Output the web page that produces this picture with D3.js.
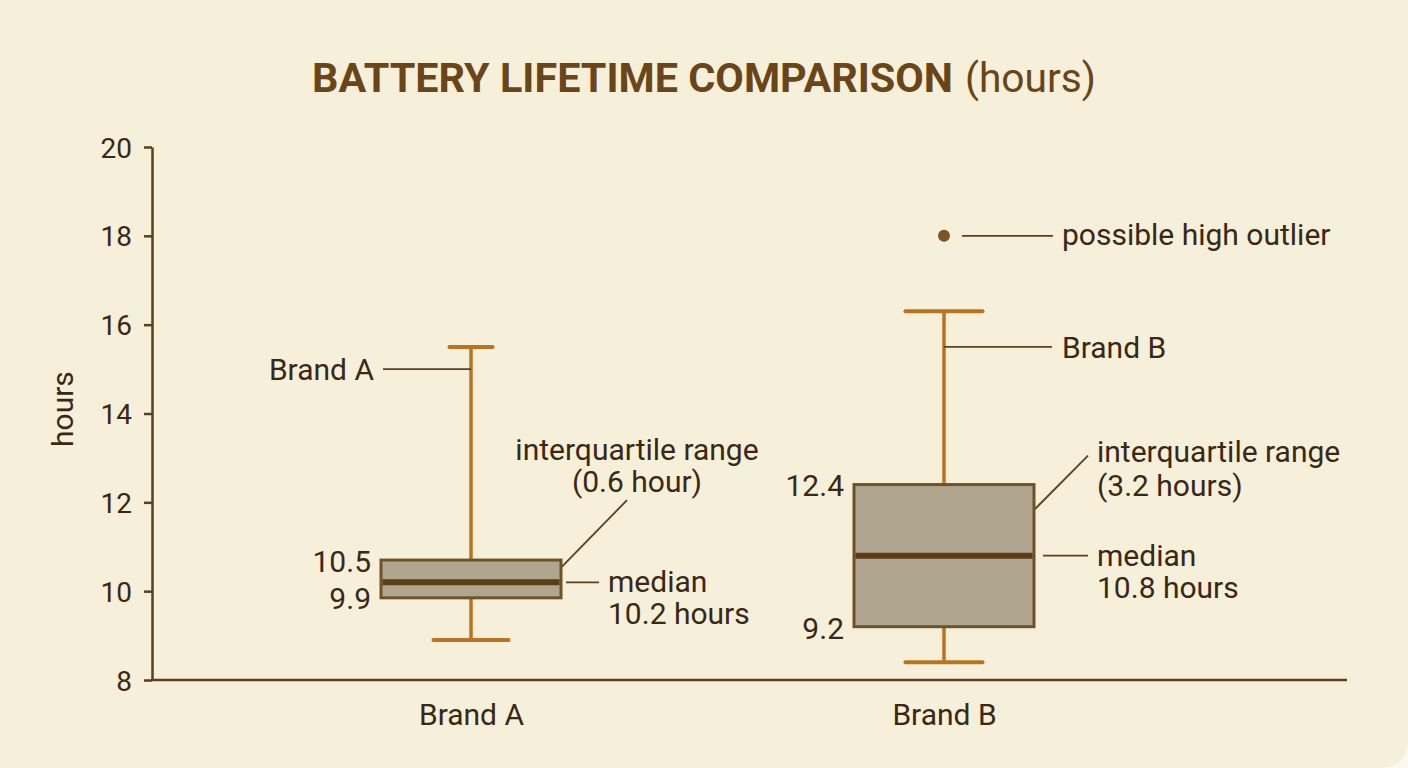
<!DOCTYPE html>
<html>
<head>
<meta charset="utf-8">
<script src="https://cdn.jsdelivr.net/npm/d3@7"></script>
<style>
  html, body { margin: 0; padding: 0; background: #fbf8ef; }
  svg { display: block; }
  text { font-family: Roboto, "Noto Sans", sans-serif; }
</style>
</head>
<body>
<svg id="chart" width="1408" height="768"></svg>
<script>
// ---- data ----
const categories = ["Brand A", "Brand B"];
const whiskerLow = [8.9, 8.4];
const q1Values = [9.85, 9.2];
const medianValues = [10.2, 10.8];
const q3Values = [10.7, 12.4];
const whiskerHigh = [15.5, 16.3];
const outlierValues = [[], [18]];
const yTickValues = [8, 10, 12, 14, 16, 18, 20];
const q1Labels = ["9.9", "9.2"];
const q3Labels = ["10.5", "12.4"];
const iqrLabels = ["(0.6 hour)", "(3.2 hours)"];
const medianLabels = ["10.2 hours", "10.8 hours"];

// ---- styles ----
const C = {
  bg: "#f6efda", text: "#3a2814", title: "#6a4517", axis: "#5b4020",
  whisker: "#b8741f", boxFill: "#b0a58f", boxStroke: "#6e5228",
  median: "#5a3c17", leader: "#5b4020", outlier: "#7a5424"
};
const FS = 30;
const FS_TICK = 28;

const svg = d3.select("#chart");
svg.append("rect").attr("x", -40).attr("y", -40).attr("width", 1448).attr("height", 808)
  .attr("rx", 26).attr("fill", C.bg);

const y = d3.scaleLinear().domain([8, 20]).range([680, 147]);
const x = d3.scalePoint().domain(categories).range([471, 944]);
const boxW = 180;
const capW = { "Brand A": [75, 43], "Brand B": [77, 77] };

// title
svg.append("text").attr("x", 312).attr("y", 92).attr("fill", C.title)
  .attr("font-size", 41).attr("font-weight", 700)
  .attr("textLength", 641).attr("lengthAdjust", "spacingAndGlyphs")
  .text("BATTERY LIFETIME COMPARISON");
svg.append("text").attr("x", 965).attr("y", 92).attr("fill", C.title).attr("font-size", 41)
  .attr("textLength", 131).attr("lengthAdjust", "spacingAndGlyphs").text("(hours)");

// y axis
const yAxis = svg.append("g").attr("transform", "translate(152,0)")
  .call(d3.axisLeft(y).tickValues(yTickValues).tickSize(8).tickPadding(12).tickSizeOuter(0));
yAxis.select(".domain").attr("stroke", C.axis).attr("stroke-width", 2.5);
yAxis.selectAll(".tick line").attr("stroke", C.axis).attr("stroke-width", 2.5);
yAxis.selectAll(".tick text").attr("fill", C.text).attr("font-size", FS_TICK)
  .attr("font-family", "Roboto").attr("dy", "0.36em");

// x axis baseline
svg.append("line").attr("x1", 151).attr("x2", 1347).attr("y1", y(8)).attr("y2", y(8))
  .attr("stroke", C.axis).attr("stroke-width", 2.5);
const xAxis = svg.append("g").attr("transform", `translate(0,${y(8)})`)
  .call(d3.axisBottom(x).tickSize(0).tickPadding(24));
xAxis.select(".domain").remove();
xAxis.selectAll(".tick text").attr("fill", C.text).attr("font-size", FS).attr("font-family", "Roboto");

// y label
svg.append("text").attr("transform", `translate(73,${y(14.1)}) rotate(-90)`)
  .attr("text-anchor", "middle").attr("fill", C.text).attr("font-size", FS).text("hours");

// box plots
categories.forEach((c, i) => {
  const cx = x(c);
  const g = svg.append("g");
  g.append("line").attr("x1", cx).attr("x2", cx).attr("y1", y(whiskerLow[i])).attr("y2", y(whiskerHigh[i]))
    .attr("stroke", C.whisker).attr("stroke-width", 3.5);
  [[whiskerLow[i], capW[c][0]], [whiskerHigh[i], capW[c][1]]].forEach(([v, w]) => {
    g.append("line").attr("x1", cx - w / 2).attr("x2", cx + w / 2).attr("y1", y(v)).attr("y2", y(v))
      .attr("stroke", C.whisker).attr("stroke-width", 4).attr("stroke-linecap", "round");
  });
  g.append("rect").attr("x", cx - boxW / 2).attr("width", boxW)
    .attr("y", y(q3Values[i])).attr("height", y(q1Values[i]) - y(q3Values[i]))
    .attr("fill", C.boxFill).attr("stroke", C.boxStroke).attr("stroke-width", 3);
  g.append("line").attr("x1", cx - boxW / 2 + 1.5).attr("x2", cx + boxW / 2 - 1.5)
    .attr("y1", y(medianValues[i])).attr("y2", y(medianValues[i]))
    .attr("stroke", C.median).attr("stroke-width", 6);
  outlierValues[i].forEach(v => {
    g.append("circle").attr("cx", cx).attr("cy", y(v)).attr("r", 6).attr("fill", C.outlier);
  });
  const lx = cx - boxW / 2 - 10;
  g.append("text").attr("x", lx).attr("y", y(q3Values[i]) + (i === 0 ? 12 : 11)).attr("text-anchor", "end")
    .attr("fill", C.text).attr("font-size", FS).text(q3Labels[i]);
  g.append("text").attr("x", lx).attr("y", y(q1Values[i]) + (i === 0 ? 11 : 12)).attr("text-anchor", "end")
    .attr("fill", C.text).attr("font-size", FS).text(q1Labels[i]);
});

function leader(x1, y1, x2, y2) {
  svg.append("line").attr("x1", x1).attr("y1", y1).attr("x2", x2).attr("y2", y2)
    .attr("stroke", C.leader).attr("stroke-width", 1.8);
}
function label(tx, ty, str, anchor) {
  svg.append("text").attr("x", tx).attr("y", ty).attr("text-anchor", anchor || "start")
    .attr("fill", C.text).attr("font-size", FS).text(str);
}

const xA = x("Brand A"), xB = x("Brand B");
// Brand A annotations
leader(383, y(15), xA, y(15));
label(374, y(15) + 11, "Brand A", "end");
leader(xA + boxW / 2 + 1, y(10.55), 627, y(12.05));
label(637, 460, "interquartile range", "middle");
label(637, 492, iqrLabels[0], "middle");
leader(566, y(medianValues[0]), 599, y(medianValues[0]));
label(608, 592, "median");
label(608, 624, medianLabels[0]);

// Brand B annotations
leader(xB, y(15.5), 1052, y(15.5));
label(1062, y(15.5) + 11, "Brand B");
leader(xB + 18, y(18), 1053, y(18));
label(1062, y(18) + 9, "possible high outlier");
leader(xB + boxW / 2 + 1, y(11.85), 1088, y(13.05));
label(1097, 462, "interquartile range");
label(1097, 496, iqrLabels[1]);
leader(1043, y(medianValues[1]), 1088, y(medianValues[1]));
label(1097, 566, "median");
label(1097, 598, medianLabels[1]);
</script>
</body>
</html>
